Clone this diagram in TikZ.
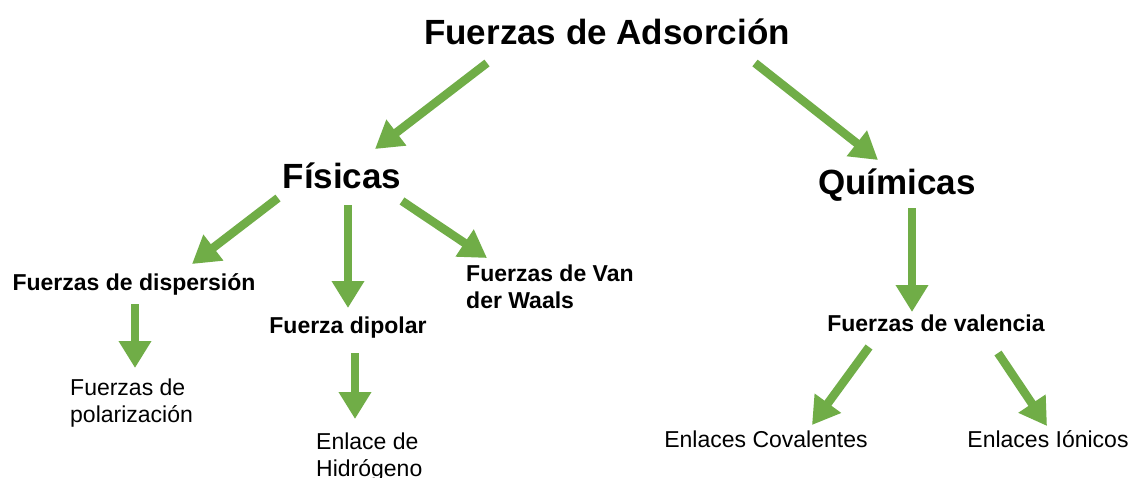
\documentclass[tikz,border=0pt]{standalone}
\usepackage{fontspec}
\setmainfont{Liberation Sans}
\usetikzlibrary{arrows.meta}
\definecolor{arrgreen}{HTML}{70AD47}
\tikzset{
  bigtitle/.style={font=\bfseries\fontsize{35}{42}\selectfont, inner sep=0pt, anchor=base},
  boldlbl/.style={font=\bfseries\fontsize{23}{27}\selectfont, inner sep=0pt, anchor=base},
  plainlbl/.style={font=\fontsize{23}{27}\selectfont, inner sep=0pt, anchor=base},
  multilbl/.style={font=\fontsize{23}{27}\selectfont, inner sep=0pt, anchor=base west, align=left},
  greenarrow/.style={draw=arrgreen, line width=8.5pt, -{Triangle[length=27pt,width=31pt]}},
}
\begin{document}
\begin{tikzpicture}[x=1pt,y=-1pt]
\useasboundingbox[fill=white] (0,0) rectangle (1133,477);
% nodes
\node[bigtitle] (ads) at (607,44) {Fuerzas de Adsorción};
\node[bigtitle] (fis) at (342,188) {Físicas};
\node[bigtitle] (qui) at (897,194) {Químicas};
\node[boldlbl] (disp) at (134,290) {Fuerzas de dispersión};
\node[boldlbl] (dip) at (348,333) {Fuerza dipolar};
\node[multilbl,font=\bfseries\fontsize{23}{27}\selectfont] (vdw) at (466,308) {Fuerzas de Van\\der Waals};
\node[boldlbl] (val) at (936,331) {Fuerzas de valencia};
\node[multilbl] (pol) at (70,422) {Fuerzas de\\polarización};
\node[multilbl] (hid) at (316,476) {Enlace de\\Hidrógeno};
\node[plainlbl] (cov) at (766,447) {Enlaces Covalentes};
\node[plainlbl] (ion) at (1048,447) {Enlaces Iónicos};
% arrow end points
\coordinate (a1s) at (487,63);  \coordinate (a1e) at (375,149);
\coordinate (a2s) at (755,63);  \coordinate (a2e) at (878,160);
\coordinate (a3s) at (278,198); \coordinate (a3e) at (192,264);
\coordinate (a4s) at (348,205); \coordinate (a4e) at (348,308);
\coordinate (a5s) at (402,201); \coordinate (a5e) at (487,258);
\coordinate (a6s) at (135,304); \coordinate (a6e) at (135,368);
\coordinate (a7s) at (355,353); \coordinate (a7e) at (355,419);
\coordinate (a8s) at (912,208); \coordinate (a8e) at (912,312);
\coordinate (a9s) at (869,347); \coordinate (a9e) at (812,425);
\coordinate (a10s) at (998,353); \coordinate (a10e) at (1047,426);
% connectors
\draw[greenarrow] (a1s) -- (a1e);
\draw[greenarrow] (a2s) -- (a2e);
\draw[greenarrow] (a3s) -- (a3e);
\draw[greenarrow] (a4s) -- (a4e);
\draw[greenarrow] (a5s) -- (a5e);
\draw[greenarrow] (a6s) -- (a6e);
\draw[greenarrow] (a7s) -- (a7e);
\draw[greenarrow] (a8s) -- (a8e);
\draw[greenarrow] (a9s) -- (a9e);
\draw[greenarrow] (a10s) -- (a10e);
\end{tikzpicture}
\end{document}
